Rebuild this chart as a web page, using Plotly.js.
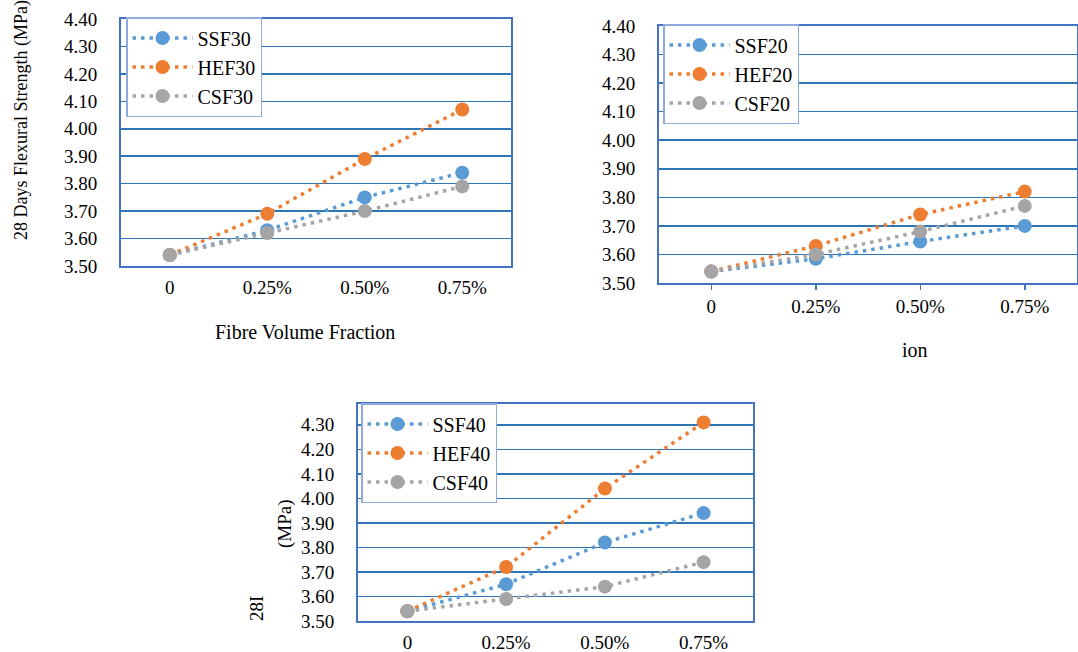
<!DOCTYPE html>
<html>
<head>
<meta charset="utf-8">
<script src="https://cdn.plot.ly/plotly-3.0.1.min.js"></script>
<style>
html,body{margin:0;padding:0;background:#fff;}
#chart{width:1078px;height:652px;}
</style>
</head>
<body>
<div id="chart"></div>
<script>
// ---- data ----
var categories = ['0', '0.25%', '0.50%', '0.75%'];
var yTickVals = [3.5, 3.6, 3.7, 3.8, 3.9, 4.0, 4.1, 4.2, 4.3, 4.4];

var seriesNames30 = ['SSF30', 'HEF30', 'CSF30'];
var ssf30 = [3.54, 3.63, 3.75, 3.84];
var hef30 = [3.54, 3.69, 3.89, 4.07];
var csf30 = [3.54, 3.62, 3.70, 3.79];

var seriesNames20 = ['SSF20', 'HEF20', 'CSF20'];
var ssf20 = [3.54, 3.585, 3.645, 3.70];
var hef20 = [3.54, 3.63, 3.74, 3.82];
var csf20 = [3.54, 3.60, 3.68, 3.77];

var seriesNames40 = ['SSF40', 'HEF40', 'CSF40'];
var ssf40 = [3.54, 3.65, 3.82, 3.94];
var hef40 = [3.54, 3.72, 4.04, 4.31];
var csf40 = [3.54, 3.59, 3.64, 3.74];

var xTitle1 = 'Fibre Volume Fraction';
var xTitle2 = 'ion';
var yTitle1 = '28 Days Flexural Strength (MPa)';
var yTitle3a = '(MPa)';
var yTitle3b = '28I';

// ---- styles ----
var colors = ['#5b9bd5', '#ed7d31', '#a5a5a5'];
var FONT = 'Liberation Serif';
var W = 1078, H = 652;
function px(x) { return x / W; }
function py(y) { return 1 - y / H; }

function makeTraces(names, vals, xa, ya, leg) {
  return names.map(function (n, i) {
    return {
      type: 'scatter', mode: 'lines+markers', name: n,
      x: categories, y: vals[i], xaxis: xa, yaxis: ya, legend: leg,
      line: { color: colors[i], width: 3.5, dash: '3.5px,5px' },
      marker: { color: colors[i], size: 14 },
      cliponaxis: false
    };
  });
}

var data = []
  .concat(makeTraces(seriesNames30, [ssf30, hef30, csf30], 'x', 'y', 'legend'))
  .concat(makeTraces(seriesNames20, [ssf20, hef20, csf20], 'x2', 'y2', 'legend2'))
  .concat(makeTraces(seriesNames40, [ssf40, hef40, csf40], 'x3', 'y3', 'legend3'));

function xAxis(domain, anchor, ticks) {
  return {
    domain: domain, anchor: anchor, type: 'category', range: [-0.5, 3.5],
    showline: true, linecolor: '#4472c4', linewidth: 2, mirror: true,
    showgrid: false, zeroline: false,
    ticks: ticks ? 'outside' : '', ticklen: 5, tickcolor: '#4472c4', tickwidth: 1.5,
    ticklabelstandoff: ticks ? 0 : 3,
    tickfont: { family: FONT, size: 19, color: '#000' }
  };
}
function yAxis(domain, anchor, range) {
  return {
    domain: domain, anchor: anchor, range: range,
    tickvals: yTickVals, tickformat: '.2f',
    showline: true, linecolor: '#4472c4', linewidth: 2, mirror: true,
    showgrid: true, gridcolor: '#2e75b6', gridwidth: 1.5, zeroline: false,
    ticks: '', ticklabelstandoff: 18,
    tickfont: { family: FONT, size: 19, color: '#000' }
  };
}
function legendCfg(x, y) {
  return {
    x: px(x), y: py(y), xanchor: 'left', yanchor: 'top',
    bgcolor: '#ffffff', bordercolor: '#8faadc', borderwidth: 1.5,
    font: { family: FONT, size: 20, color: '#000' },
    itemwidth: 60, orientation: 'v'
  };
}

var layout = {
  width: W, height: H,
  margin: { l: 0, r: 0, t: 0, b: 0, pad: 0 },
  paper_bgcolor: '#ffffff', plot_bgcolor: '#ffffff',
  showlegend: true,
  xaxis: xAxis([px(121), px(511)], 'y', false),
  yaxis: yAxis([py(266), py(19)], 'x', [3.5, 4.4]),
  xaxis2: xAxis([px(659), px(1077)], 'y2', true),
  yaxis2: yAxis([py(283), py(26)], 'x2', [3.5, 4.4]),
  xaxis3: xAxis([px(358), px(753)], 'y3', false),
  yaxis3: yAxis([py(621), py(404)], 'x3', [3.5, 4.385]),
  legend: legendCfg(126, 17),
  legend2: legendCfg(663, 24),
  legend3: legendCfg(361, 403),
  annotations: [
    { text: xTitle1, xref: 'paper', yref: 'paper', x: px(305), y: py(332), showarrow: false,
      xanchor: 'center', yanchor: 'middle', font: { family: FONT, size: 20, color: '#000' } },
    { text: xTitle2, xref: 'paper', yref: 'paper', x: px(915), y: py(350), showarrow: false,
      xanchor: 'center', yanchor: 'middle', font: { family: FONT, size: 20, color: '#000' } },
    { text: yTitle1, xref: 'paper', yref: 'paper', x: px(21), y: py(120), showarrow: false,
      textangle: -90, xanchor: 'center', yanchor: 'middle', font: { family: FONT, size: 18, color: '#000' } },
    { text: yTitle3a, xref: 'paper', yref: 'paper', x: px(285), y: py(524), showarrow: false,
      textangle: -90, xanchor: 'center', yanchor: 'middle', font: { family: FONT, size: 19, color: '#000' } },
    { text: yTitle3b, xref: 'paper', yref: 'paper', x: px(256), y: py(609), showarrow: false,
      textangle: -90, xanchor: 'center', yanchor: 'middle', font: { family: FONT, size: 19, color: '#000' } }
  ]
};

Plotly.newPlot('chart', data, layout, { displayModeBar: false, staticPlot: true });
</script>
</body>
</html>
